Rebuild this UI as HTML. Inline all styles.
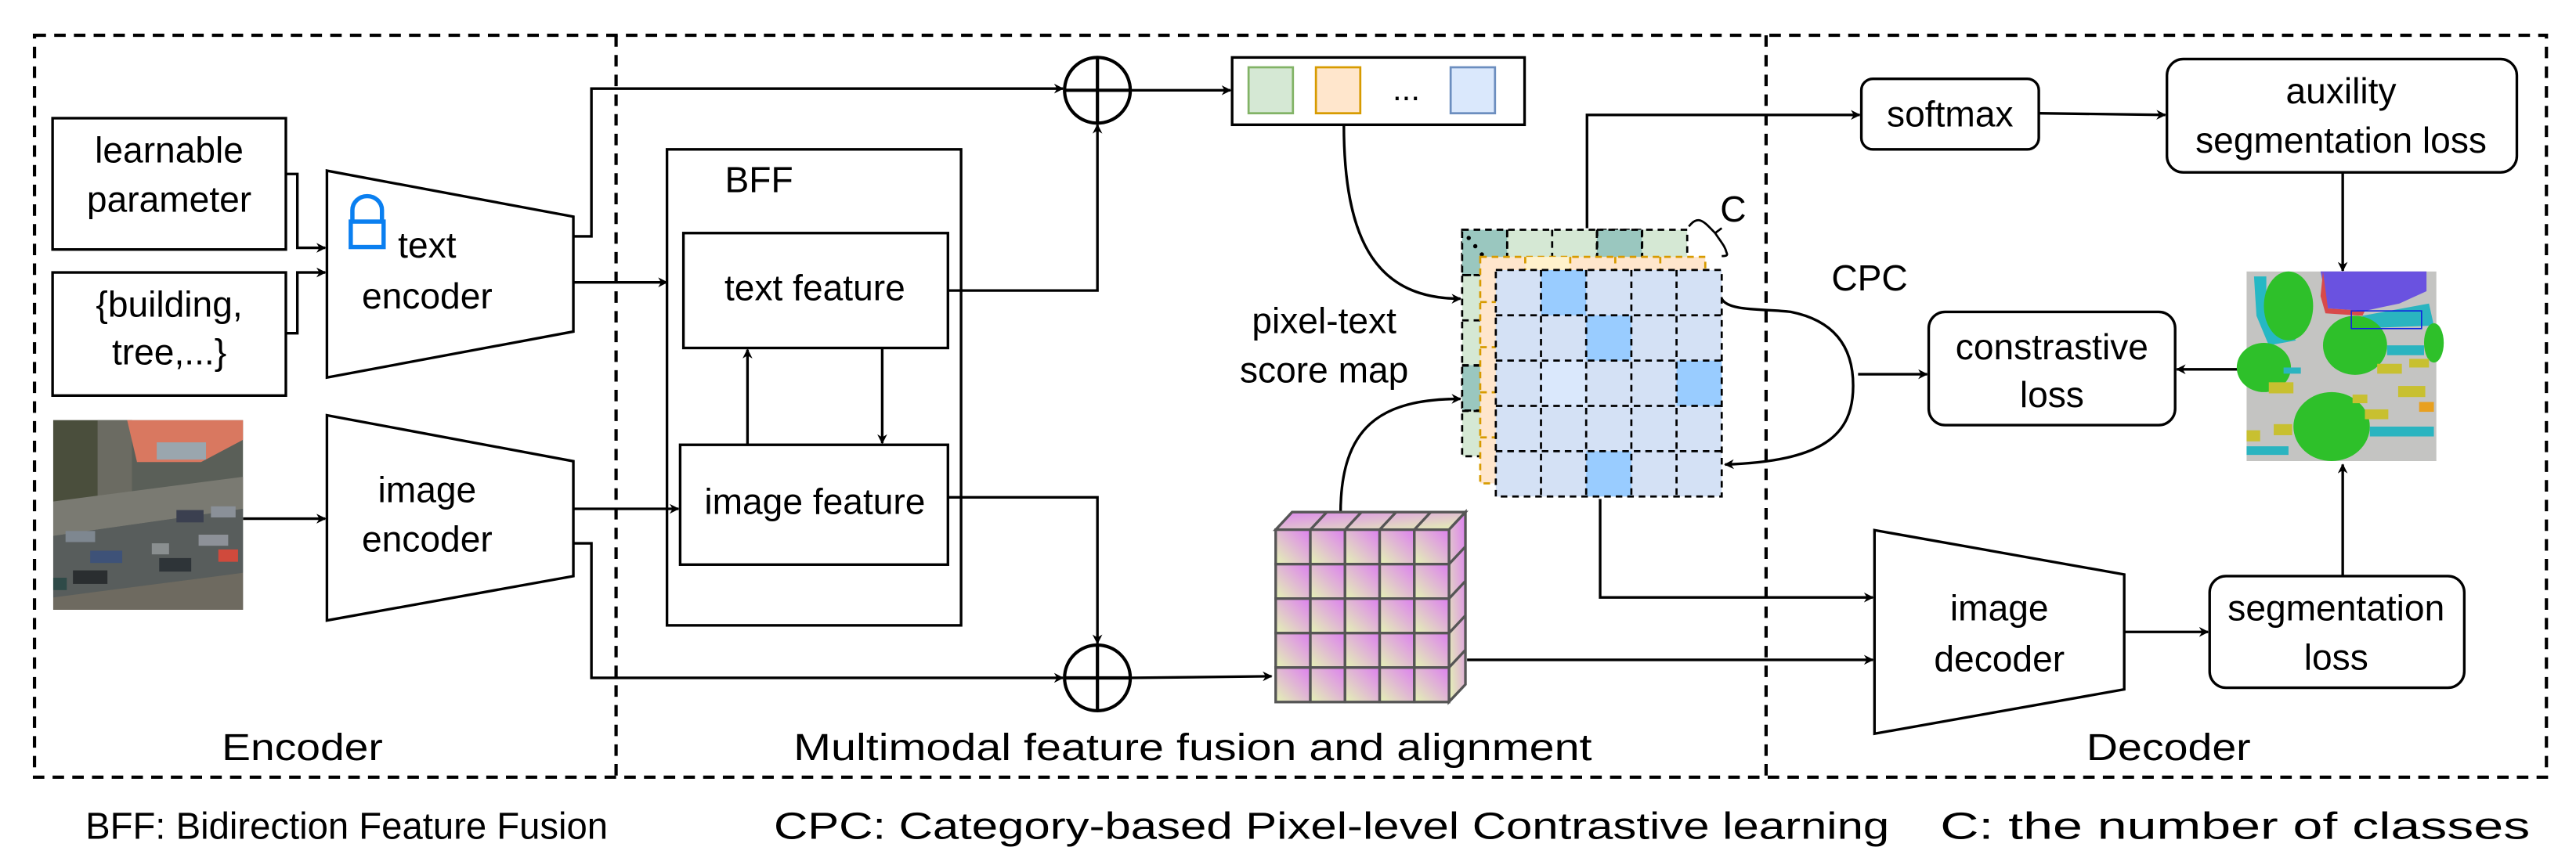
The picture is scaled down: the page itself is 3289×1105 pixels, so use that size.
<!DOCTYPE html>
<html><head><meta charset="utf-8"><style>
html,body{margin:0;padding:0;background:#fff;}
svg{display:block;}
text{font-family:"Liberation Sans",Arial,sans-serif;fill:#000;}
</style></head><body>
<svg width="3289" height="1105" viewBox="0 0 1568 527" preserveAspectRatio="none" xmlns="http://www.w3.org/2000/svg">
<defs>
<marker id="a" viewBox="0 0 10 10" refX="9" refY="5" markerWidth="6" markerHeight="6" orient="auto" markerUnits="userSpaceOnUse">
<path d="M0,0 L10,5 L0,10 L3,5 z" fill="#000"/></marker>
<linearGradient id="cg" x1="1" y1="0" x2="0" y2="1">
<stop offset="0" stop-color="#dd80f0"/><stop offset="1" stop-color="#e4f4b4"/></linearGradient>
<linearGradient id="cg2" x1="0" y1="0" x2="1" y2="1">
<stop offset="0" stop-color="#dd88ee"/><stop offset="1" stop-color="#e4f4b4"/></linearGradient>
</defs>
<g fill="none" stroke="#000" stroke-width="1.6">
<rect x="21" y="21.5" width="1529" height="452" stroke-dasharray="7,5" stroke-width="2"/>
<line x1="375" y1="21.5" x2="375" y2="473.5" stroke-dasharray="7,5" stroke-width="2"/>
<line x1="1075" y1="21.5" x2="1075" y2="473.5" stroke-dasharray="7,5" stroke-width="2"/>
<rect x="32" y="72" width="142" height="80"/>
<rect x="32" y="166" width="142" height="75"/>
<polygon points="199,104 349,132 349,202 199,230"/>
<polygon points="199,253 349,281 349,351 199,378"/>
<rect x="406" y="91" width="179" height="290"/>
<rect x="416" y="142" width="161" height="70"/>
<rect x="414" y="271" width="163" height="73"/>
<circle cx="668" cy="55" r="20" stroke-width="2"/>
<line x1="648" y1="55" x2="688" y2="55" stroke-width="2"/><line x1="668" y1="35" x2="668" y2="75" stroke-width="2"/>
<circle cx="668" cy="413" r="20" stroke-width="2"/>
<line x1="648" y1="413" x2="688" y2="413" stroke-width="2"/><line x1="668" y1="393" x2="668" y2="433" stroke-width="2"/>
<rect x="750" y="35" width="178" height="41"/>
<rect x="1133" y="48" width="108" height="43" rx="7"/>
<rect x="1319" y="36" width="213" height="69" rx="10"/>
<rect x="1174" y="190" width="150" height="69" rx="10"/>
<rect x="1345" y="351" width="155" height="68" rx="10"/>
<polygon points="1141,323 1293,350 1293,420 1141,447"/>
<polyline points="174,106 181,106 181,151 198,151" marker-end="url(#a)"/>
<polyline points="174,203 181,203 181,166 198,166" marker-end="url(#a)"/>
<polyline points="349,144 360,144 360,54 647,54" marker-end="url(#a)"/>
<line x1="349" y1="172" x2="406" y2="172" marker-end="url(#a)"/>
<line x1="148" y1="316" x2="198" y2="316" marker-end="url(#a)"/>
<line x1="349" y1="310" x2="413" y2="310" marker-end="url(#a)"/>
<polyline points="349,331 360,331 360,413 647,413" marker-end="url(#a)"/>
<polyline points="577,177 668,177 668,76" marker-end="url(#a)"/>
<polyline points="577,303 668,303 668,392" marker-end="url(#a)"/>
<line x1="455" y1="271" x2="455" y2="213" marker-end="url(#a)"/>
<line x1="537" y1="212" x2="537" y2="270" marker-end="url(#a)"/>
<line x1="688" y1="55" x2="749" y2="55" marker-end="url(#a)"/>
<line x1="688" y1="413" x2="774" y2="412" marker-end="url(#a)"/>
<path d="M818,76 C818,150 840,182 889,182" marker-end="url(#a)"/>
<path d="M816,313 C816,260 840,243 889,243" marker-end="url(#a)"/>
<polyline points="966,139 966,70 1132,70" marker-end="url(#a)"/>
<line x1="1241" y1="69" x2="1318" y2="70" marker-end="url(#a)"/>
<line x1="1426" y1="105" x2="1426" y2="165" marker-end="url(#a)"/>
<line x1="1367" y1="225" x2="1325" y2="225" marker-end="url(#a)"/>
<line x1="1426" y1="351" x2="1426" y2="283" marker-end="url(#a)"/>
<line x1="1131" y1="228" x2="1173" y2="228" marker-end="url(#a)"/>
<path d="M1048,182 C1052,190 1075,188 1090,190 C1120,196 1128,215 1128,235 C1128,265 1110,281 1050,283" marker-end="url(#a)"/>
<polyline points="974,304 974,364 1140,364" marker-end="url(#a)"/>
<line x1="893" y1="402" x2="1140" y2="402" marker-end="url(#a)"/>
<line x1="1293" y1="385" x2="1344" y2="385" marker-end="url(#a)"/>
<path d="M1028,138 C1034,130 1038,136 1044,142 C1048,148 1050,150 1051,154 C1052,156 1050,156 1048,156" stroke-width="1.3"/>
<line x1="1044" y1="142" x2="1048" y2="139" stroke-width="1.3"/>
</g>
<g fill="none" stroke="#0a7ff0" stroke-width="2.6">
<rect x="213.5" y="135" width="20" height="15.5"/>
<path d="M214.5,135 L214.5,128 A9,8.5 0 0 1 232.5,128 L232.5,135"/>
</g>
<rect x="760" y="41" width="27" height="28" fill="#d5e8d4" stroke="#82b366" stroke-width="1.3"/>
<rect x="801" y="41" width="27" height="28" fill="#ffe6cc" stroke="#d79b00" stroke-width="1.3"/>
<rect x="883" y="41" width="27" height="28" fill="#dae8fc" stroke="#6c8ebf" stroke-width="1.3"/>
<text x="856" y="61" font-size="20" text-anchor="middle">...</text>
<g stroke="#000" stroke-width="1.3" stroke-dasharray="4,3">
<rect x="890" y="140" width="137" height="138" fill="#d5e8d4"/>
<rect x="890" y="140" width="27.4" height="27.6" fill="#9ac7bf"/>
<rect x="972" y="140" width="27.4" height="27.6" fill="#9ac7bf"/>
<rect x="890" y="222.5" width="27.4" height="27.6" fill="#9ac7bf"/>
</g>
<g fill="none" stroke="#000" stroke-width="1.3" stroke-dasharray="4,3">
<line x1="917.4" y1="140" x2="917.4" y2="278"/><line x1="944.8" y1="140" x2="944.8" y2="278"/><line x1="972.2" y1="140" x2="972.2" y2="278"/><line x1="999.6" y1="140" x2="999.6" y2="278"/>
<line x1="890" y1="167.6" x2="1027" y2="167.6"/><line x1="890" y1="195.2" x2="1027" y2="195.2"/><line x1="890" y1="222.8" x2="1027" y2="222.8"/><line x1="890" y1="250.4" x2="1027" y2="250.4"/>
</g>
<g fill="#000"><circle cx="894" cy="145" r="1.3"/><circle cx="898" cy="150" r="1.3"/><circle cx="902" cy="155" r="1.3"/></g>
<g stroke="#d79b00" stroke-width="1.3" stroke-dasharray="4,3">
<rect x="901" y="156.5" width="137" height="138" fill="#ffe6cc"/>
<rect x="928.4" y="156.5" width="27.4" height="8" fill="#fff2cc" stroke="none"/>
</g>
<g fill="none" stroke="#d79b00" stroke-width="1.3" stroke-dasharray="4,3">
<line x1="928.4" y1="156.5" x2="928.4" y2="294.5"/><line x1="955.8" y1="156.5" x2="955.8" y2="294.5"/><line x1="983.2" y1="156.5" x2="983.2" y2="294.5"/><line x1="1010.6" y1="156.5" x2="1010.6" y2="294.5"/>
<line x1="901" y1="184" x2="1038" y2="184"/><line x1="901" y1="211.5" x2="1038" y2="211.5"/><line x1="901" y1="239" x2="1038" y2="239"/><line x1="901" y1="266.5" x2="1038" y2="266.5"/>
</g>
<rect x="910.5" y="164.5" width="137.5" height="138" fill="#d4e1f5"/>
<rect x="938" y="164.5" width="27.5" height="27.6" fill="#99ccff"/>
<rect x="965.5" y="192.1" width="27.5" height="27.6" fill="#99ccff"/>
<rect x="1020.5" y="219.7" width="27.5" height="27.6" fill="#99ccff"/>
<rect x="938" y="219.7" width="27.5" height="27.6" fill="#dae8fc"/>
<rect x="965.5" y="274.9" width="27.5" height="27.6" fill="#99ccff"/>
<g fill="none" stroke="#000" stroke-width="1.3" stroke-dasharray="4,3">
<rect x="910.5" y="164.5" width="137.5" height="138"/>
<line x1="938" y1="164.5" x2="938" y2="302.5"/><line x1="965.5" y1="164.5" x2="965.5" y2="302.5"/><line x1="993" y1="164.5" x2="993" y2="302.5"/><line x1="1020.5" y1="164.5" x2="1020.5" y2="302.5"/>
<line x1="910.5" y1="192.1" x2="1048" y2="192.1"/><line x1="910.5" y1="219.7" x2="1048" y2="219.7"/><line x1="910.5" y1="247.3" x2="1048" y2="247.3"/><line x1="910.5" y1="274.9" x2="1048" y2="274.9"/>
</g>
<g stroke="#555" stroke-width="1.6">
<polygon points="776.5,322.7 786.5,312 892,312 882,322.7" fill="url(#cg2)"/>
<polygon points="882,322.7 892,312 892,417 882,427.6" fill="url(#cg)"/>
<g fill="url(#cg)">
<rect x="776.5" y="322.7" width="21.1" height="21"/><rect x="797.6" y="322.7" width="21.1" height="21"/><rect x="818.7" y="322.7" width="21.1" height="21"/><rect x="839.8" y="322.7" width="21.1" height="21"/><rect x="860.9" y="322.7" width="21.1" height="21"/>
<rect x="776.5" y="343.7" width="21.1" height="21"/><rect x="797.6" y="343.7" width="21.1" height="21"/><rect x="818.7" y="343.7" width="21.1" height="21"/><rect x="839.8" y="343.7" width="21.1" height="21"/><rect x="860.9" y="343.7" width="21.1" height="21"/>
<rect x="776.5" y="364.7" width="21.1" height="21"/><rect x="797.6" y="364.7" width="21.1" height="21"/><rect x="818.7" y="364.7" width="21.1" height="21"/><rect x="839.8" y="364.7" width="21.1" height="21"/><rect x="860.9" y="364.7" width="21.1" height="21"/>
<rect x="776.5" y="385.7" width="21.1" height="21"/><rect x="797.6" y="385.7" width="21.1" height="21"/><rect x="818.7" y="385.7" width="21.1" height="21"/><rect x="839.8" y="385.7" width="21.1" height="21"/><rect x="860.9" y="385.7" width="21.1" height="21"/>
<rect x="776.5" y="406.7" width="21.1" height="21"/><rect x="797.6" y="406.7" width="21.1" height="21"/><rect x="818.7" y="406.7" width="21.1" height="21"/><rect x="839.8" y="406.7" width="21.1" height="21"/><rect x="860.9" y="406.7" width="21.1" height="21"/>
</g>
<g fill="none">
<line x1="797.6" y1="322.7" x2="807.6" y2="312"/><line x1="818.7" y1="322.7" x2="828.7" y2="312"/><line x1="839.8" y1="322.7" x2="849.8" y2="312"/><line x1="860.9" y1="322.7" x2="870.9" y2="312"/>
<line x1="882" y1="343.7" x2="892" y2="333"/><line x1="882" y1="364.7" x2="892" y2="354"/><line x1="882" y1="385.7" x2="892" y2="375"/><line x1="882" y1="406.7" x2="892" y2="396"/>
</g>
</g>
<g transform="translate(32.4,256) scale(0.15)">
<rect x="0" y="0" width="770" height="770" fill="#5a5f58"/>
<rect x="0" y="0" width="320" height="330" fill="#4a4e3c"/>
<rect x="180" y="0" width="140" height="330" fill="#6b6b62"/>
<polygon points="300,0 770,0 770,80 600,170 340,170" fill="#d97860"/>
<rect x="420" y="90" width="200" height="70" fill="#9aa6ae"/>
<polygon points="0,330 770,230 770,360 0,470" fill="#7a7a72"/>
<polygon points="0,470 770,360 770,620 0,720" fill="#585d5c"/>
<polygon points="0,720 770,620 770,770 0,770" fill="#6e6a60"/>
<rect x="500" y="365" width="110" height="50" fill="#3b4050"/><rect x="640" y="350" width="100" height="45" fill="#8a9098"/>
<rect x="50" y="450" width="120" height="45" fill="#7e8790"/><rect x="150" y="530" width="130" height="50" fill="#3e5278"/>
<rect x="400" y="500" width="70" height="45" fill="#8a8f90"/><rect x="590" y="465" width="120" height="45" fill="#8d9198"/>
<rect x="670" y="525" width="80" height="50" fill="#d04a3c"/><rect x="430" y="560" width="130" height="55" fill="#2e3438"/>
<rect x="80" y="610" width="140" height="55" fill="#2a2e30"/><rect x="0" y="640" width="55" height="50" fill="#2f4a48"/>
</g>
<g transform="translate(1367.5,165.4) scale(0.15)">
<rect x="0" y="0" width="770" height="770" fill="#c4c4c2"/>
<polygon points="30,20 80,20 80,80 200,280 90,300 40,180" fill="#26b8c4"/>
<ellipse cx="170" cy="140" rx="100" ry="140" fill="#2ec02a"/>
<polygon points="300,0 730,0 730,80 620,130 480,160 330,150" fill="#6a52e0"/>
<polygon points="310,0 330,150 480,160 470,180 320,170 300,100" fill="#d84a4a"/>
<polygon points="470,180 740,130 760,220 480,230" fill="#2ab4c0"/>
<ellipse cx="440" cy="300" rx="130" ry="120" fill="#2ec02a"/>
<ellipse cx="70" cy="390" rx="110" ry="100" fill="#2ec02a"/>
<ellipse cx="345" cy="630" rx="155" ry="140" fill="#2ec02a"/>
<ellipse cx="760" cy="290" rx="40" ry="80" fill="#2ec02a"/>
<rect x="570" y="300" width="150" height="40" fill="#2ab4c0"/>
<rect x="150" y="390" width="70" height="25" fill="#2ab4c0"/>
<rect x="500" y="630" width="260" height="40" fill="#2ab4c0"/>
<rect x="0" y="710" width="170" height="35" fill="#2ab4c0"/>
<rect x="530" y="375" width="100" height="40" fill="#c8c030"/><rect x="660" y="355" width="80" height="35" fill="#c8c030"/>
<rect x="90" y="450" width="100" height="45" fill="#c8c030"/><rect x="615" y="465" width="110" height="45" fill="#c8c030"/>
<rect x="700" y="530" width="60" height="40" fill="#e8a020"/><rect x="480" y="560" width="95" height="40" fill="#c8c030"/>
<rect x="110" y="620" width="75" height="45" fill="#c8c030"/><rect x="0" y="645" width="55" height="45" fill="#c8c030"/>
<rect x="430" y="500" width="60" height="35" fill="#c8c030"/>
<rect x="425" y="160" width="285" height="72" fill="none" stroke="#1020e0" stroke-width="5"/>
</g>
<g font-size="22" text-anchor="middle">
<text x="103" y="99">learnable</text>
<text x="103" y="129">parameter</text>
<text x="103" y="193">{building,</text>
<text x="103" y="222">tree,...}</text>
<text x="260" y="157">text</text>
<text x="260" y="188">encoder</text>
<text x="260" y="306">image</text>
<text x="260" y="336">encoder</text>
<text x="462" y="117">BFF</text>
<text x="496" y="183">text feature</text>
<text x="496" y="313">image feature</text>
<text x="806" y="203">pixel-text</text>
<text x="806" y="233">score map</text>
<text x="1187" y="77">softmax</text>
<text x="1425" y="63">auxility</text>
<text x="1425" y="93">segmentation loss</text>
<text x="1249" y="219">constrastive</text>
<text x="1249" y="248">loss</text>
<text x="1138" y="177">CPC</text>
<text x="1055" y="135">C</text>
<text x="1217" y="378">image</text>
<text x="1217" y="409">decoder</text>
<text x="1422" y="378">segmentation</text>
<text x="1422" y="408">loss</text>
</g>
<g font-size="23">
<text x="135" y="463" textLength="98" lengthAdjust="spacingAndGlyphs">Encoder</text>
<text x="483" y="463" textLength="486" lengthAdjust="spacingAndGlyphs">Multimodal feature fusion and alignment</text>
<text x="1270" y="463" textLength="100" lengthAdjust="spacingAndGlyphs">Decoder</text>
<text x="52" y="511" textLength="318" lengthAdjust="spacingAndGlyphs">BFF: Bidirection Feature Fusion</text>
<text x="471" y="511" textLength="679" lengthAdjust="spacingAndGlyphs">CPC: Category-based Pixel-level Contrastive learning</text>
<text x="1181" y="511" textLength="359" lengthAdjust="spacingAndGlyphs">C: the number of classes</text>
</g>
</svg>
</body></html>
